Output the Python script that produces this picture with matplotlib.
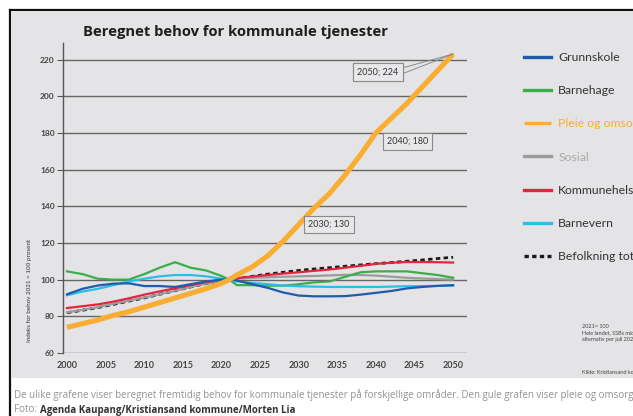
import matplotlib
matplotlib.use('Agg')
import matplotlib.pyplot as plt
from matplotlib.patches import Rectangle
from matplotlib.lines import Line2D

# data (index, 2021 = 100)
years = [2000, 2002, 2004, 2006, 2008, 2010, 2012, 2014, 2016, 2018, 2020, 2021,
         2022, 2024, 2026, 2028, 2030, 2032, 2034, 2036, 2038, 2040, 2042, 2044,
         2046, 2048, 2050]

grunnskole = [92, 95, 96.8, 97.8, 98, 96.5, 96.5, 96, 97.5, 99, 100, 100.5,
              99.5, 97.5, 95.5, 93, 91.3, 90.9, 90.9, 91, 91.8, 92.8, 93.8, 95.2,
              96, 96.6, 97]
barnehage = [104.5, 103, 100.5, 100, 100, 103, 106.5, 109.5, 106.5, 105, 102, 100,
             97, 97, 96.7, 96.7, 97.5, 98.5, 99, 101.5, 104, 104.5, 104.5, 104.5,
             103.5, 102.5, 101]
pleie = [74, 76, 78, 80.5, 82.5, 85, 87.5, 90, 92.5, 95, 98, 100,
         102.5, 107, 113, 121, 130, 139, 147, 157, 168, 180, 188, 196,
         205, 214, 223]
sosial = [82.2, 83.5, 85, 86.8, 88.5, 90.2, 92, 94, 96, 97.8, 99.3, 100,
          100.5, 101, 101.3, 101.6, 101.8, 102, 102.3, 102.6, 102.5, 102.2, 101.6, 101,
          100.6, 100.3, 100]
kommunehelse = [84.5, 85.5, 86.5, 88, 89.8, 91.8, 93.6, 95.3, 97, 98.6, 99.8, 100.3,
                100.8, 101.7, 102.5, 103.3, 104, 104.8, 105.5, 106.5, 107.5, 108.6, 109.2, 109.6,
                109.6, 109.5, 109.3]
barnevern = [91.5, 93.5, 95, 97, 99, 100.5, 101.8, 102.5, 102.5, 101.8, 100.5, 100,
             99, 98.2, 97.5, 96.8, 96.4, 96.2, 96, 96, 96, 96, 96.2, 96.4,
             96.5, 96.6, 96.7]
befolkning = [82, 83.3, 84.8, 86.5, 88.3, 90, 92, 94, 96, 97.8, 99.3, 100,
              100.6, 101.8, 103, 104, 105, 105.8, 106.5, 107.3, 108, 108.7, 109.3, 110,
              110.7, 111.5, 112.2]

labels = ['Grunnskole', 'Barnehage', 'Pleie og omsorg', 'Sosial',
          'Kommunehelse', 'Barnevern', 'Befolkning totalt']

callout_years = [2030, 2040, 2050]
callout_values = [130, 180, 224]

W, H = 633, 416
fig = plt.figure(figsize=(W / 100, H / 100), dpi=100)
fig.patch.set_facecolor('white')

# grey panel and black frame
fig.patches.append(Rectangle((12 / W, 1 - 378 / H), 1, (378 - 12) / H,
                             transform=fig.transFigure, facecolor='#e4e4e6',
                             edgecolor='none', zorder=-5))
fig.lines.append(Line2D([10 / W, 10 / W], [0, 1 - 10 / H], transform=fig.transFigure,
                        color='#111111', lw=1.6, zorder=-4))
fig.lines.append(Line2D([10 / W, 1], [1 - 10 / H, 1 - 10 / H], transform=fig.transFigure,
                        color='#111111', lw=1.6, zorder=-4))

ax = fig.add_axes([63 / W, 1 - 353 / H, 404 / W, 310 / H])
ax.set_zorder(2)
ax.set_facecolor('none')
ax.set_xlim(1999.48, 2051.8)
ax.set_ylim(60, 229)

for s in ['top', 'right', 'bottom']:
    ax.spines[s].set_visible(False)
ax.spines['left'].set_color('#555555')
ax.spines['left'].set_linewidth(1)

ax.set_yticks([60, 80, 100, 120, 140, 160, 180, 200, 220])
ax.set_xticks(list(range(2000, 2051, 5)))
ax.yaxis.grid(True, color='#666666', lw=1)
ax.set_axisbelow(True)
ax.tick_params(axis='y', length=4, width=0.8, color='#555555', pad=2,
               labelsize=6, labelcolor='#444444')
ax.tick_params(axis='x', length=0, pad=6, labelsize=6.5, labelcolor='#444444')
for t in ax.get_xticklabels() + ax.get_yticklabels():
    t.set_family('Lato')
    t.set_fontweight('bold')

l_bef, = ax.plot(years, befolkning, color='#1a1a1a', lw=2, dashes=(1.6, 1.2))
l_sos, = ax.plot(years, sosial, color='#9c9c9c', lw=1.6)
l_red, = ax.plot(years, kommunehelse, color='#e5253f', lw=1.6)
l_grn, = ax.plot(years, barnehage, color='#3aae4c', lw=1.6)
l_cya, = ax.plot(years, barnevern, color='#2cbce8', lw=1.6)
l_blu, = ax.plot(years, grunnskole, color='#1f5caa', lw=1.6)
l_ora, = ax.plot(years, pleie, color='#f9ad33', lw=3.7, solid_capstyle='butt')

# callout boxes on the orange line
box = dict(boxstyle='square,pad=0.45', facecolor='#e8e8ea', edgecolor='#8a8a8a', lw=0.8)
ax.annotate(f'{callout_years[0]}; {callout_values[0]}', xy=(callout_years[0], pleie[16]),
            xytext=(7, 0), textcoords='offset points', ha='left', va='center',
            fontsize=6.5, family='Lato', color='#333333', bbox=box)
ax.annotate(f'{callout_years[1]}; {callout_values[1]}', xy=(callout_years[1], pleie[21]),
            xytext=(8, -6), textcoords='offset points', ha='left', va='center',
            fontsize=6.5, family='Lato', color='#333333', bbox=box)
for rp in [(1, 0.85), (1, 0.15)]:
    ax.annotate(f'{callout_years[2]}; {callout_values[2]}', xy=(callout_years[2], pleie[-1]),
                xytext=(-54, -13), textcoords='offset points', ha='center', va='center',
                fontsize=6.5, family='Lato', color='#333333', bbox=box,
                arrowprops=dict(arrowstyle='-', color='#8a8a8a', lw=0.7, relpos=rp,
                                shrinkA=0, shrinkB=0))

fig.text(83 / W, 1 - 32 / H, 'Beregnet behov for kommunale tjenester',
         fontsize=10.6, fontweight='bold', family='Open Sans', color='#1e1e1e',
         ha='left', va='center')
fig.text(30 / W, 1 - 290 / H, 'Indeks for behov 2021 = 100 prosent', rotation=90,
         fontsize=4.5, family='Lato', color='#333333', ha='center', va='center')

handles = [l_blu, l_grn, l_ora, l_sos, l_red, l_cya, l_bef]
leg = fig.legend(handles, labels, loc='upper left', bbox_to_anchor=(524 / W, 1 - 52 / H),
                 frameon=False, handlelength=2.2, handletextpad=0.6,
                 labelspacing=1.82, borderpad=0, borderaxespad=0,
                 prop={'family': 'Lato', 'size': 8.8})
leg_colors = ['#333333', '#333333', '#f9ad33', '#aaaaaa', '#333333', '#333333', '#333333']
for t, c in zip(leg.get_texts(), leg_colors):
    t.set_color(c)
for lh in leg.legend_handles:
    lh.set_linewidth(2.4)
leg.legend_handles[-1].set_dashes((1.3, 1.0))

notes = ['2021= 100', 'Hele landet, SSBs middels', 'alternativ per juli 2021']
for i, n in enumerate(notes):
    fig.text(582 / W, 1 - (326 + 7 * i) / H, n, fontsize=4, family='Lato',
             color='#444444', va='center')
fig.text(582 / W, 1 - 372 / H, 'Kilde: Kristiansand kommune', fontsize=4, family='Lato',
         color='#444444', va='center')

fig.text(14 / W, 1 - 395 / H,
         'De ulike grafene viser beregnet fremtidig behov for kommunale tjenester på forskjellige '
         'områder. Den gule grafen viser pleie og omsorg.',
         fontsize=7, family='Open Sans', color='#929292', va='center')
t_foto = fig.text(14 / W, 1 - 410 / H, 'Foto: ', fontsize=7, family='Open Sans',
                  color='#929292', va='center')
ax.annotate('Agenda Kaupang/Kristiansand kommune/Morten Lia', xy=(1, 0.5), xycoords=t_foto,
            va='center', ha='left', fontsize=7, family='Open Sans', fontweight='bold',
            color='#333333', annotation_clip=False)

fig.savefig('out.png', dpi=100)
